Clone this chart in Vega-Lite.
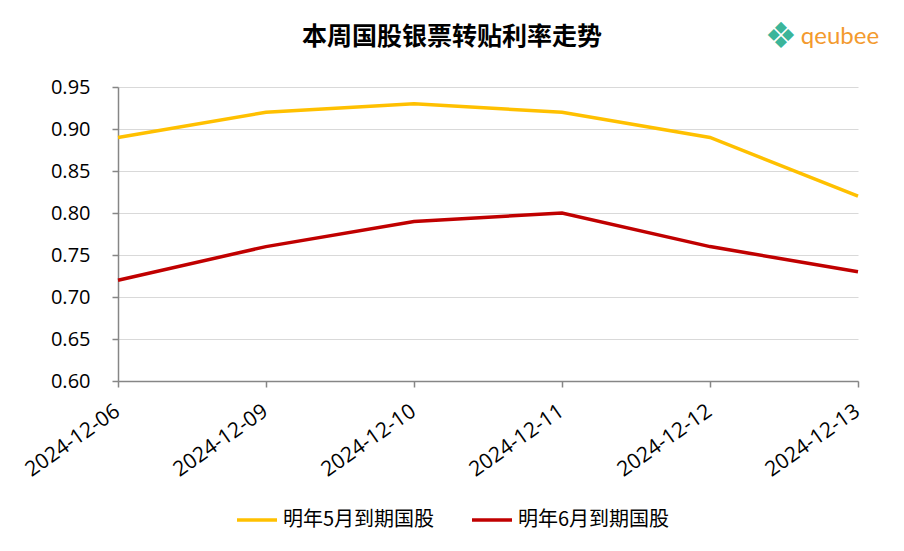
{
  "$schema": "https://vega.github.io/schema/vega-lite/v6.json",
  "width": 740,
  "height": 294,
  "autosize": {"type": "none"},
  "padding": {"left": 118, "top": 87, "right": 46, "bottom": 170},
  "background": "white",
  "title": {
    "text": "本周国股银票转贴利率走势",
    "font": "Noto Sans CJK SC",
    "fontSize": 25,
    "fontWeight": "bold",
    "color": "#000000",
    "anchor": "middle",
    "dx": -36,
    "offset": -31
  },
  "config": {
    "view": {"stroke": null},
    "font": "Noto Sans CJK SC"
  },
  "data": {
    "values": [
      {"date": "2024-12-06", "series": "明年5月到期国股", "rate": 0.89},
      {"date": "2024-12-09", "series": "明年5月到期国股", "rate": 0.92},
      {"date": "2024-12-10", "series": "明年5月到期国股", "rate": 0.93},
      {"date": "2024-12-11", "series": "明年5月到期国股", "rate": 0.92},
      {"date": "2024-12-12", "series": "明年5月到期国股", "rate": 0.89},
      {"date": "2024-12-13", "series": "明年5月到期国股", "rate": 0.82},
      {"date": "2024-12-06", "series": "明年6月到期国股", "rate": 0.72},
      {"date": "2024-12-09", "series": "明年6月到期国股", "rate": 0.76},
      {"date": "2024-12-10", "series": "明年6月到期国股", "rate": 0.79},
      {"date": "2024-12-11", "series": "明年6月到期国股", "rate": 0.80},
      {"date": "2024-12-12", "series": "明年6月到期国股", "rate": 0.76},
      {"date": "2024-12-13", "series": "明年6月到期国股", "rate": 0.73}
    ]
  },
  "layer": [
    {
      "mark": {"type": "line", "strokeWidth": 3.5, "strokeCap": "butt"},
      "encoding": {
        "x": {
          "field": "date",
          "type": "ordinal",
          "scale": {"type": "point", "padding": 0},
          "axis": {
            "title": null,
            "labelAngle": -35,
            "labelAlign": "right",
            "labelBaseline": "top",
            "labelFont": "Open Sans",
            "labelFontSize": 21,
            "labelColor": "#000000",
            "labelPadding": 13,
            "labelOffset": -7,
            "domainColor": "#868686",
            "domainWidth": 1.5,
            "tickColor": "#868686",
            "tickWidth": 1.5,
            "tickSize": 6,
            "grid": false
          }
        },
        "y": {
          "field": "rate",
          "type": "quantitative",
          "scale": {"domain": [0.6, 0.95], "nice": false, "zero": false},
          "axis": {
            "title": null,
            "values": [0.6, 0.65, 0.7, 0.75, 0.8, 0.85, 0.9, 0.95],
            "format": ".2f",
            "labelFont": "Open Sans",
            "labelFontSize": 20,
            "labelColor": "#000000",
            "labelPadding": 22,
            "domainColor": "#868686",
            "domainWidth": 1.5,
            "tickColor": "#868686",
            "tickWidth": 1.5,
            "tickSize": 6,
            "grid": true,
            "gridColor": "#D9D9D9",
            "gridWidth": 1.2
          }
        },
        "color": {
          "field": "series",
          "type": "nominal",
          "scale": {
            "domain": ["明年5月到期国股", "明年6月到期国股"],
            "range": ["#FFC000", "#C00000"]
          },
          "legend": {
            "title": null,
            "orient": "none",
            "direction": "horizontal",
            "legendX": 117,
            "legendY": 411,
            "symbolType": "stroke",
            "symbolSize": 1600,
            "symbolStrokeWidth": 3.5,
            "labelFontSize": 20,
            "labelColor": "#000000",
            "labelOffset": 4,
            "columnPadding": 30
          }
        }
      }
    },
    {
      "data": {"values": [{"logo": "qeubee"}]},
      "mark": {"type": "text", "fontSize": 24, "color": "#F39A2E", "font": "Lato", "dx": -18, "dy": -50, "align": "center", "baseline": "middle"},
      "encoding": {
        "x": {"datum": "2024-12-13", "type": "ordinal"},
        "y": {"datum": 0.95, "type": "quantitative"},
        "text": {"field": "logo"}
      }
    },
    {
      "data": {"values": [{"icon": "❖"}]},
      "mark": {"type": "text", "fontSize": 36, "color": "#3BB59A", "font": "DejaVu Sans", "dx": -77, "dy": -50, "align": "center", "baseline": "middle"},
      "encoding": {
        "x": {"datum": "2024-12-13", "type": "ordinal"},
        "y": {"datum": 0.95, "type": "quantitative"},
        "text": {"field": "icon"}
      }
    }
  ]
}
